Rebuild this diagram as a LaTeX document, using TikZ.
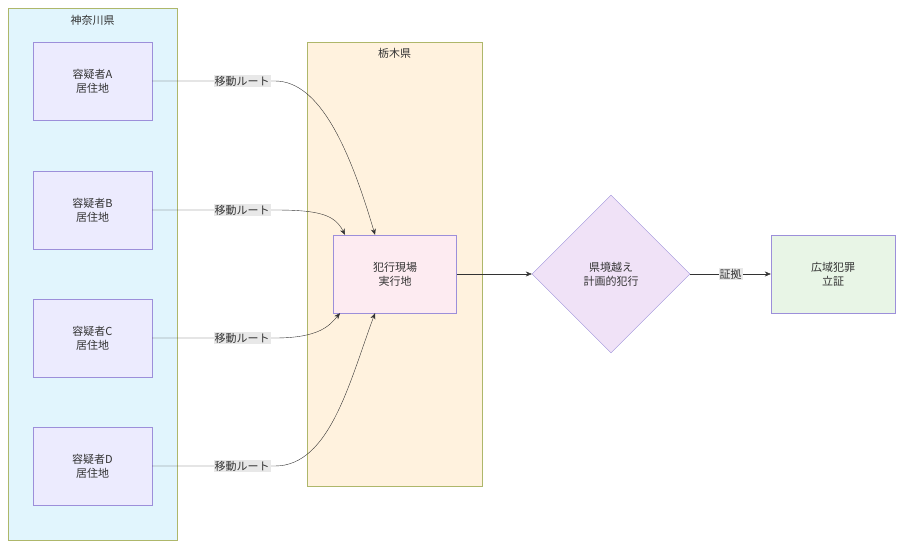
\documentclass[tikz,border=0pt]{standalone}
\usepackage{fontspec}
\setmainfont{Noto Sans CJK JP}
\usetikzlibrary{arrows.meta,shapes.geometric}
\definecolor{grpA}{HTML}{E1F5FD}
\definecolor{grpB}{HTML}{FFF2DE}
\definecolor{grpline}{HTML}{AEB76A}
\definecolor{boxline}{HTML}{9C8FDA}
\definecolor{boxfill}{HTML}{ECEBFE}
\definecolor{scenefill}{HTML}{FDEBF1}
\definecolor{endfill}{HTML}{E8F5E6}
\definecolor{dfill}{HTML}{F0E2F7}
\definecolor{lblfill}{HTML}{E8E8E8}
\definecolor{txt}{HTML}{333333}
\begin{document}
\begin{tikzpicture}[x=1pt,y=-1pt,>={Stealth[length=6pt,width=5pt]},
  every node/.style={font=\fontsize{11}{14}\selectfont,text=txt,align=center},
  group/.style={draw=grpline,thin},
  main node/.style={draw=boxline,fill=boxfill,minimum width=119pt,minimum height=78pt,inner sep=0pt},
  route/.style={fill=lblfill,inner sep=1pt},
  link/.style={->,draw=txt,thin}]

 \useasboundingbox (0,0) rectangle (904,548);
 % prefectures
 \draw[group,fill=grpA] (8,8) rectangle (177,540);
 \node (kanagawa) at (92.5,20) {神奈川県};
 \draw[group,fill=grpB] (307,42) rectangle (482,486);
 \node (tochigi) at (394.5,53) {栃木県};

 \node[main node] (a) at (92.5,81) {容疑者A\\居住地};
 \node[main node] (b) at (92.5,210) {容疑者B\\居住地};
 \node[main node] (c) at (92.5,338) {容疑者C\\居住地};
 \node[main node] (d) at (92.5,466) {容疑者D\\居住地};

 \node[main node,fill=scenefill,minimum width=123pt] (scene) at (395,274) {犯行現場\\実行地};
 \node[diamond,draw=boxline,fill=dfill,minimum width=158pt,minimum height=158pt,inner sep=0pt] (plan) at (611,274) {県境越え\\計画的犯行};
 \node[main node,fill=endfill,minimum width=124pt] (proof) at (833,274) {広域犯罪\\立証};

 \draw[link] (a.east) -- (275,81) .. controls (320,81) and (350,150) .. ([xshift=-20pt]scene.north);
 \draw[link] (b.east) -- (275,210) .. controls (320,210) and (335,215) .. ([xshift=-50pt]scene.north);
 \draw[link] (c.east) -- (275,338) .. controls (320,338) and (330,325) .. ([xshift=-55pt]scene.south);
 \draw[link] (d.east) -- (275,466) .. controls (330,466) and (350,380) .. ([xshift=-20pt]scene.south);
 \foreach \y in {81,210,338,466} \node[route] at (242,\y) {移動ルート};

 \draw[link] (scene) -- (plan);
 \draw[link] (plan) -- node[route] {証拠} (proof);
\end{tikzpicture}
\end{document}
